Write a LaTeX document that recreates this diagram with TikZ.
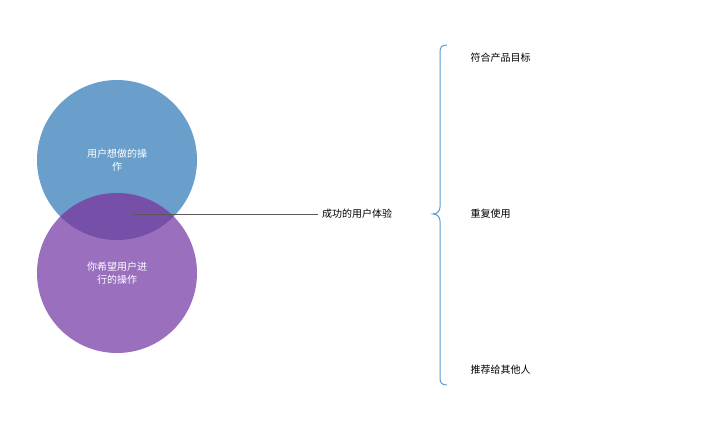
\documentclass[tikz,border=0pt]{standalone}
\usepackage{fontspec}
\setmainfont{Noto Sans CJK SC}
\definecolor{topblue}{HTML}{6A9FCC}
\definecolor{lowpurple}{HTML}{9A6FBE}
\definecolor{mixpurple}{HTML}{7650A8}
\definecolor{bracecol}{HTML}{5B9BD5}
\tikzset{
  circtext/.style = {text = white, align = center, font = \fontsize{10pt}{13pt}\selectfont},
  item/.style = {anchor = west, font = \fontsize{10pt}{12pt}\selectfont}
}
\begin{document}
\begin{tikzpicture}[x = 1pt, y = -1pt]
\useasboundingbox (0, 0) rectangle (720, 432);

\fill [topblue] (117, 160) circle (80);
\fill [lowpurple] (117, 273) circle (80);
\begin{scope}
\clip (117, 160) circle (80);
\fill [mixpurple] (117, 273) circle (80);
\end{scope}

\node [circtext] (want) at (117, 160) {用户想做的操\\作};
\node [circtext] (hope) at (117, 273) {你希望用户进\\行的操作};

\coordinate (mid) at (133, 214);
\node [font = \fontsize{10pt}{12pt}\selectfont] (good) at (357, 214) {成功的用户体验};
\draw [gray!70!black, line width = 0.5] (mid) -- (good.west);

\draw [bracecol, line width = 1] (447, 45) .. controls (442, 45) and (440, 47) .. (440, 52) -- (440, 207) .. controls (440, 211) and (437, 214) .. (433, 214) .. controls (437, 214) and (440, 217) .. (440, 221) -- (440, 378) .. controls (440, 383) and (442, 385) .. (447, 385);

\node [item] (goal) at (467, 58) {符合产品目标};
\node [item] (reuse) at (467, 214) {重复使用};
\node [item] (share) at (467, 370) {推荐给其他人};
\end{tikzpicture}
\end{document}
